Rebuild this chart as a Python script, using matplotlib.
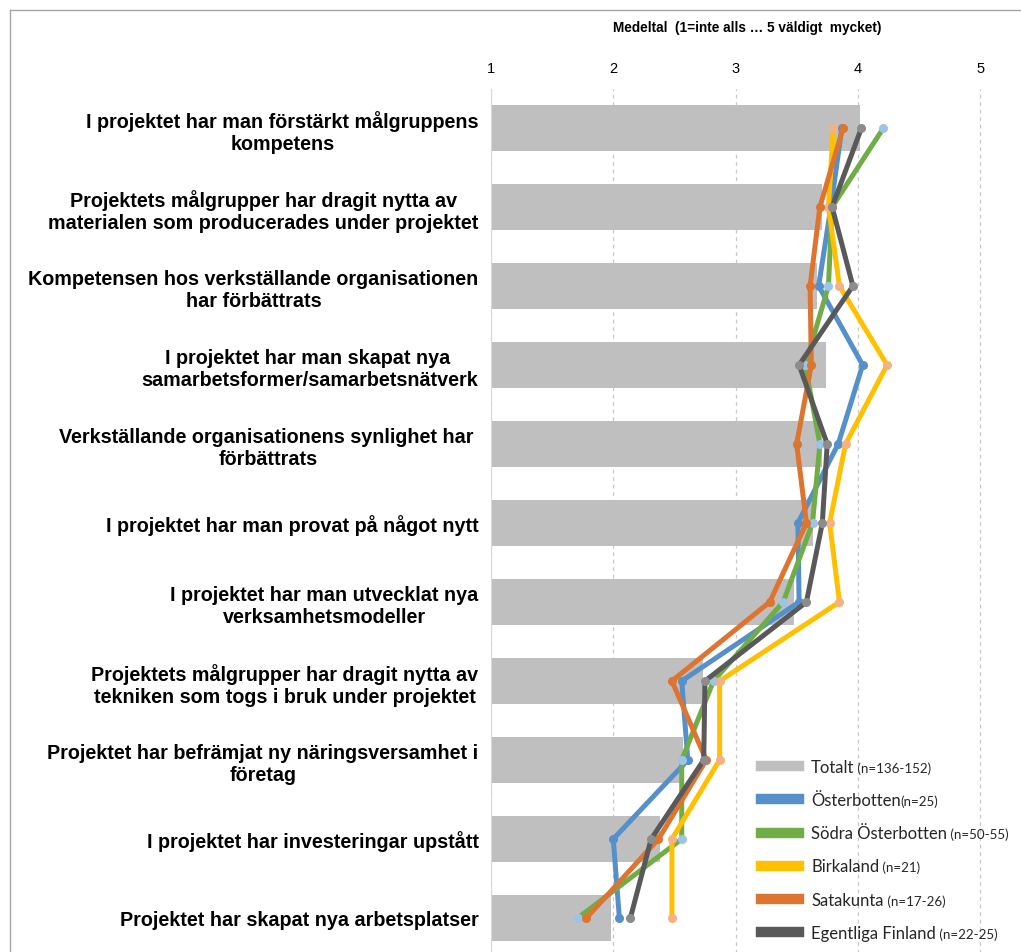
import numpy as np
import matplotlib
matplotlib.use("Agg")
import matplotlib.pyplot as plt
from matplotlib.lines import Line2D

plt.rcParams['font.family'] = ['Liberation Sans', 'DejaVu Sans']

# --- DATA ---
categories = [
    "I projektet har man förstärkt målgruppens\nkompetens",
    "Projektets målgrupper har dragit nytta av\nmaterialen som producerades under projektet",
    "Kompetensen hos verkställande organisationen\nhar förbättrats",
    "I projektet har man skapat nya \nsamarbetsformer/samarbetsnätverk",
    "Verkställande organisationens synlighet har \nförbättrats",
    "I projektet har man provat på något nytt",
    "I projektet har man utvecklat nya\nverksamhetsmodeller",
    "Projektets målgrupper har dragit nytta av\ntekniken som togs i bruk under projektet",
    "Projektet har befrämjat ny näringsversamhet i\nföretag",
    "I projektet har investeringar upstått",
    "Projektet har skapat nya arbetsplatser",
]
totalt = [4.02, 3.71, 3.67, 3.74, 3.71, 3.63, 3.48, 2.73, 2.57, 2.38, 1.98]
osterbotten = [3.87, 3.78, 3.68, 4.04, 3.84, 3.51, 3.52, 2.56, 2.61, 2.00, 2.05]
sodra_osterbotten = [4.21, 3.79, 3.76, 3.57, 3.69, 3.63, 3.39, 2.82, 2.56, 2.56, 1.71]
birkaland = [3.80, 3.76, 3.85, 4.24, 3.90, 3.77, 3.85, 2.87, 2.87, 2.48, 2.48]
satakunta = [3.88, 3.69, 3.61, 3.62, 3.50, 3.58, 3.28, 2.48, 2.76, 2.37, 1.78]
egentliga_finland = [4.03, 3.79, 3.96, 3.52, 3.75, 3.71, 3.58, 2.75, 2.74, 2.31, 2.14]

series_names = ["Österbotten", "Södra Österbotten", "Birkaland", "Satakunta", "Egentliga Finland"]
series_n = ["(n=25)", " (n=50-55)", " (n=21)", " (n=17-26)", " (n=22-25)"]
series_vals = [osterbotten, sodra_osterbotten, birkaland, satakunta, egentliga_finland]
line_colors = ['#5590CA', '#70AD47', '#FFC000', '#DD7430', '#595959']
marker_colors = ['#5590CA', '#9DC3E6', '#F4B183', '#DD7430', '#8C8C8C']
x_ticks = [1, 2, 3, 4, 5]

W, H = 1021, 953
fig = plt.figure(figsize=(W / 100, H / 100), dpi=100)
ax = fig.add_axes([491 / W, 1 - 958.5 / H, (1010.6 - 491) / W, 869 / H])

y = np.arange(len(categories))
ax.barh(y, totalt, height=0.57, color='#BFBFBF', zorder=2)

for vals, lc, mc in zip(series_vals, line_colors, marker_colors):
    ax.plot(vals, y, color=lc, lw=3.6, marker='o', ms=5.5, mfc=mc, mec=mc,
            solid_capstyle='round', zorder=3)

ax.set_xlim(1, 5.25)
ax.set_ylim(len(categories) - 0.5, -0.5)
ax.xaxis.tick_top()
ax.set_xticks(x_ticks)
ax.set_xticklabels([str(t) for t in x_ticks], fontsize=10.5)
ax.tick_params(axis='x', length=0, pad=10)
ax.set_yticks(y)
ax.set_yticklabels(categories, fontsize=14.2, fontweight='bold', multialignment='center',
                   linespacing=1.2)
ax.tick_params(axis='y', length=0, pad=9)
ax.xaxis.grid(True, linestyle=(0, (3, 3)), color='#C8C8C8', lw=0.9, zorder=1)
for s in ['top', 'right', 'bottom']:
    ax.spines[s].set_visible(False)
ax.spines['left'].set_color('#D9D9D9')

fig.text(747 / W, 1 - 28 / H, "Medeltal  (1=inte alls \u2026 5 väldigt  mycket)",
         ha='center', va='center', fontsize=9.8, fontweight='bold')

# chart border
fig.add_artist(Line2D([10 / W, 10 / W], [0, 1 - 11 / H], transform=fig.transFigure,
                      color='#A6A6A6', lw=1))
fig.add_artist(Line2D([10 / W, 1], [1 - 11 / H, 1 - 11 / H], transform=fig.transFigure,
                      color='#A6A6A6', lw=1))

# legend
handles = [Line2D([0], [0], color='#BFBFBF', lw=7.5)]
handles += [Line2D([0], [0], color=c, lw=7.5) for c in line_colors]
labels = ["Totalt"] + series_names
n_texts = [" (n=136-152)"] + series_n
leg = fig.legend(handles, labels, loc='upper left', bbox_to_anchor=(761 / W, 1 - 760 / H),
                 frameon=False, prop={'family': 'Lato', 'size': 12}, handlelength=2.25,
                 handletextpad=0.75, labelspacing=1.03, borderpad=0, borderaxespad=0)
for t in leg.get_texts():
    t.set_color('#262626')

fig.canvas.draw()
renderer = fig.canvas.get_renderer()
for t, nt in zip(leg.get_texts(), n_texts):
    bb = t.get_window_extent(renderer)
    _, _, d = renderer.get_text_width_height_descent("lp", t.get_fontproperties(), ismath=False)
    fig.text(bb.x1 / W, (bb.y0 + d) / H, nt, ha='left', va='baseline',
             family='Lato', fontsize=9.6, color='#262626')

fig.savefig("out.png", dpi=100)
